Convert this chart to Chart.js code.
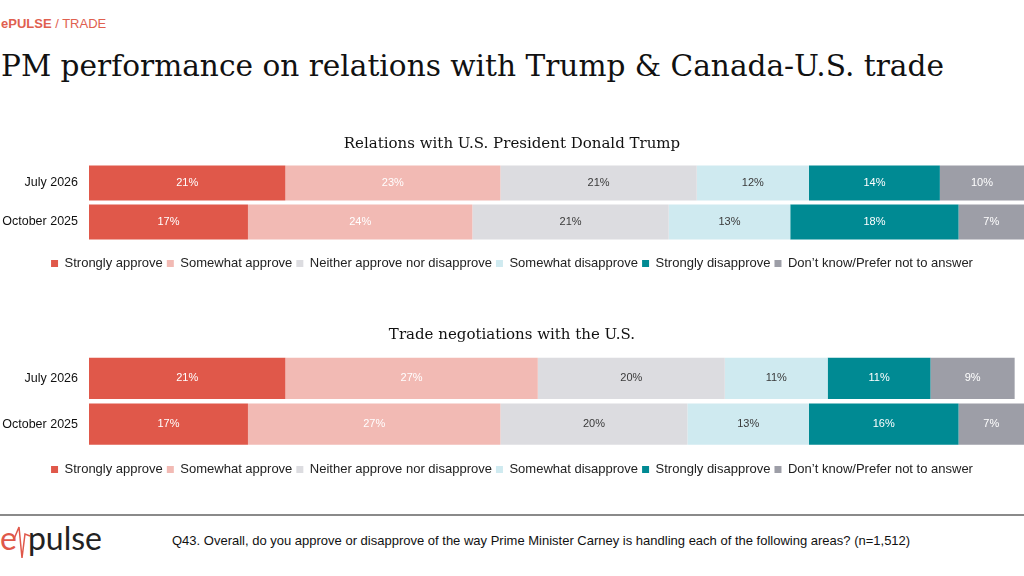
<!DOCTYPE html>
<html>
<head>
<meta charset="utf-8">
<script src="https://cdn.jsdelivr.net/npm/chart.js@4"></script>
<style>
  html, body { margin: 0; padding: 0; background: #fff; }
  body { width: 1024px; height: 576px; position: relative; overflow: hidden; font-family: "Liberation Sans", Arial, sans-serif; }
  #kicker { position: absolute; left: 1px; top: 16px; font-size: 13px; color: #e0604f; }
  #kicker b { font-weight: bold; }
  #headline { position: absolute; left: 1px; top: 49px; font-family: "DejaVu Serif", Georgia, serif; font-size: 29.6px; color: #111; white-space: nowrap; }
  .box { position: absolute; left: 0; width: 1024px; }
  #rule { position: absolute; left: 0; top: 514px; width: 1024px; height: 2px; background: #8a8a8a; }
  #logo { position: absolute; left: 0; top: 518px; font-family: Lato, "Open Sans", sans-serif; font-size: 32px; color: #222; white-space: nowrap; }
  #logo .e { color: #e0584a; margin-right: 11px; }
  #logo svg { position: absolute; left: 0; top: 0; }
  #note { position: absolute; left: 172px; top: 533px; font-size: 13px; color: #111; white-space: nowrap; }
</style>
</head>
<body>
<div id="kicker"><b>ePULSE</b> / TRADE</div>
<div id="headline">PM performance on relations with Trump &amp; Canada-U.S. trade</div>

<div class="box" style="top:125px;height:155px"><canvas id="trump"></canvas></div>
<div class="box" style="top:315px;height:171px"><canvas id="trade"></canvas></div>

<div id="rule"></div>
<div id="logo"><span class="e">e</span>pulse<svg width="40" height="45"><polyline points="14,21 19,9 22,40 25,16 30,18" fill="none" stroke="#e0584a" stroke-width="1.5"/></svg></div>
<div id="note">Q43. Overall, do you approve or disapprove of the way Prime Minister Carney is handling each of the following areas? (n=1,512)</div>

<script>
// survey waves (rows)
const waves = ['July 2026', 'October 2025']

// answer options (stack segments)
const answers = [
    'Strongly approve',
    'Somewhat approve',
    'Neither approve nor disapprove',
    'Somewhat disapprove',
    'Strongly disapprove',
    'Don\u2019t know/Prefer not to answer'
]
const answerColors = ['#e0584a', '#f2bab4', '#dcdce0', '#cfeaf0', '#008a93', '#9d9ea7']
const labelColors = ['#ffffff', '#ffffff', '#3a3a3a', '#3a3a3a', '#ffffff', '#ffffff']

// % per answer, [July 2026, October 2025]
const trumpStrongApprove = [21, 17]
const trumpSomeApprove = [23, 24]
const trumpNeither = [21, 21]
const trumpSomeDisapprove = [12, 13]
const trumpStrongDisapprove = [14, 18]
const trumpDontKnow = [10, 7]

const tradeStrongApprove = [21, 17]
const tradeSomeApprove = [27, 27]
const tradeNeither = [20, 20]
const tradeSomeDisapprove = [11, 13]
const tradeStrongDisapprove = [11, 16]
const tradeDontKnow = [9, 7]

const trumpSeries = [trumpStrongApprove, trumpSomeApprove, trumpNeither, trumpSomeDisapprove, trumpStrongDisapprove, trumpDontKnow]
const tradeSeries = [tradeStrongApprove, tradeSomeApprove, tradeNeither, tradeSomeDisapprove, tradeStrongDisapprove, tradeDontKnow]

// writes the % in the middle of each visible segment
const segmentLabels = {
    id: 'segmentLabels',
    afterDatasetsDraw(chart) {
        const ctx = chart.ctx
        const area = chart.chartArea
        ctx.save()
        ctx.font = '11px "Liberation Sans", Arial, sans-serif'
        ctx.textAlign = 'center'
        ctx.textBaseline = 'middle'
        chart.data.datasets.forEach((ds, i) => {
            chart.getDatasetMeta(i).data.forEach((bar, j) => {
                const left = Math.max(bar.base, area.left)
                const right = Math.min(bar.x, area.right)
                ctx.fillStyle = labelColors[i]
                ctx.fillText(ds.data[j] + '%', (left + right) / 2, bar.y)
            })
        })
        ctx.restore()
    }
}

function drawChart(id, title, series, titleTop, titleBottom, gap) {
    new Chart(document.getElementById(id), {
        type: 'bar',
        data: {
            labels: waves,
            datasets: series.map((values, i) => ({
                label: answers[i],
                data: values,
                backgroundColor: answerColors[i],
                borderWidth: 0,
                barPercentage: 0.9,
                categoryPercentage: 1
            }))
        },
        options: {
            indexAxis: 'y',
            responsive: true,
            maintainAspectRatio: false,
            animation: false,
            layout: { padding: 0 },
            scales: {
                x: {
                    stacked: true,
                    min: 0,
                    max: 100,
                    display: true,
                    ticks: { display: false },
                    grid: { display: false },
                    border: { display: false },
                    // empty title only used as spacing above the legend
                    title: { display: true, text: '', font: { size: 1, lineHeight: 1 }, padding: { top: gap, bottom: 0 } }
                },
                y: {
                    stacked: true,
                    grid: { display: false },
                    border: { display: false },
                    ticks: {
                        padding: 3,
                        color: '#111',
                        font: { family: '"Liberation Sans", Arial, sans-serif', size: 12.5 }
                    },
                    afterFit: axis => { axis.width = 89 }
                }
            },
            plugins: {
                title: {
                    display: true,
                    text: title,
                    color: '#111',
                    font: { family: '"DejaVu Serif", Georgia, serif', size: 15, weight: 'normal', lineHeight: 1.2 },
                    padding: { top: titleTop, bottom: titleBottom }
                },
                legend: {
                    position: 'bottom',
                    labels: {
                        boxWidth: 7,
                        boxHeight: 7,
                        padding: 4,
                        color: '#222',
                        font: { family: '"Liberation Sans", Arial, sans-serif', size: 13 }
                    }
                },
                tooltip: { enabled: false }
            }
        },
        plugins: [segmentLabels]
    })
}

drawChart('trump', 'Relations with U.S. President Donald Trump', trumpSeries, 10, 10.5, 2.5)
drawChart('trade', 'Trade negotiations with the U.S.', tradeSeries, 11, 11.5, 3)
</script>
</body>
</html>
